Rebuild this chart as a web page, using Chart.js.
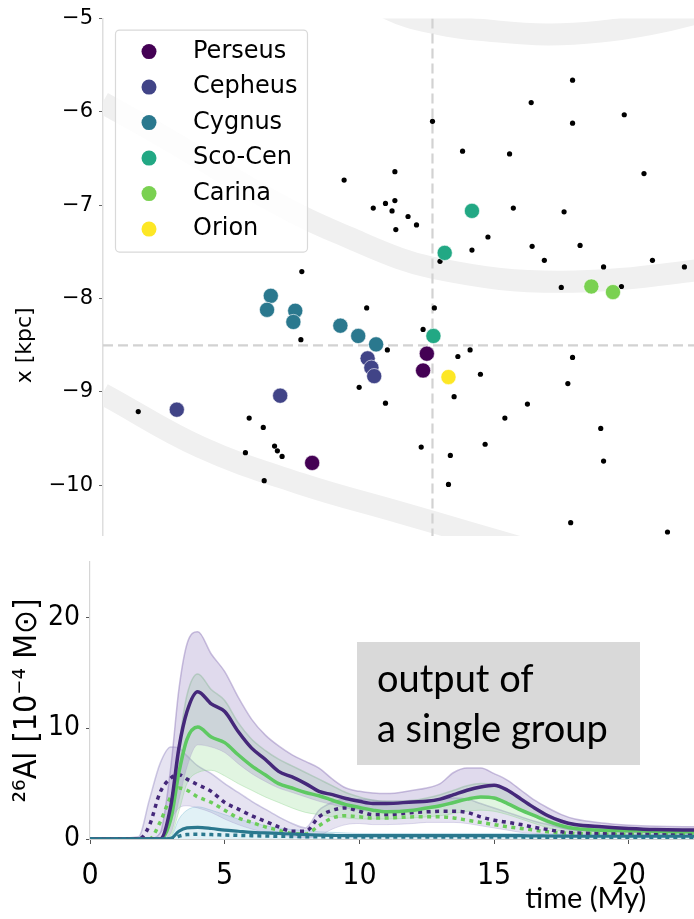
<!DOCTYPE html>
<html>
<head>
<meta charset="utf-8">
<script src="https://cdn.jsdelivr.net/npm/chart.js@4.4.1/dist/chart.umd.min.js"></script>
<style>
html, body { margin: 0; padding: 0; background: #fff; }
#wrap { position: relative; width: 694px; height: 919px; overflow: hidden; }
.panel { position: absolute; left: 0; width: 694px; overflow: hidden; }
</style>
</head>
<body>
<div id="wrap">
  <div class="panel" style="top:0;height:536px"><canvas id="mapChart" width="694" height="692" style="width:694px;height:692px"></canvas></div>
  <div class="panel" style="top:536px;height:383px"><canvas id="alChart"></canvas></div>
</div>
<script>
// ---- top panel: positions of groups and clusters (kpc) ----
const groupNames = ["Perseus", "Cepheus", "Cygnus", "Sco-Cen", "Carina", "Orion"];
const groupColors = ["#440154", "#414487", "#2a788e", "#22a884", "#7ad151", "#fde725"];

const perseus = [[-0.06, -8.59], [-0.10, -8.77], [-1.28, -9.76]];
const cepheus = [[-2.72, -9.19], [-1.62, -9.04], [-0.69, -8.64], [-0.65, -8.74], [-0.62, -8.83]];
const cygnus = [[-1.72, -7.97], [-1.76, -8.12], [-1.46, -8.13], [-1.48, -8.25], [-0.98, -8.29], [-0.79, -8.40], [-0.60, -8.49]];
const scoCen = [[0.42, -7.06], [0.13, -7.51], [0.01, -8.40]];
const carina = [[1.69, -7.87], [1.92, -7.93]];
const orion = [[0.17, -8.84]];
const groups = [perseus, cepheus, cygnus, scoCen, carina, orion];

const clusters = [
  [1.49, -5.66], [1.05, -5.90], [2.04, -6.03], [0.00, -6.10], [1.49, -6.12],
  [0.32, -6.42], [0.82, -6.45], [2.25, -6.66], [-0.40, -6.64], [-0.94, -6.73],
  [-0.63, -7.03], [-0.50, -6.98], [-0.40, -6.95], [-0.43, -7.06], [-0.26, -7.12],
  [-0.17, -7.21], [-0.39, -7.26], [0.86, -7.03], [1.40, -7.07], [0.59, -7.34],
  [0.42, -7.48], [1.06, -7.44], [1.57, -7.43], [1.19, -7.59], [2.34, -7.59],
  [2.68, -7.66], [1.82, -7.66], [0.08, -7.60], [1.37, -7.88], [2.01, -7.87],
  [-1.39, -7.71], [-0.70, -8.10], [0.02, -8.10], [-1.40, -8.44], [-0.10, -8.33],
  [-0.48, -8.55], [0.27, -8.62], [0.40, -8.55], [1.49, -8.63], [0.51, -8.81],
  [1.44, -8.91], [-0.78, -8.95], [-0.50, -9.12], [0.23, -9.05], [1.01, -9.13],
  [0.77, -9.28], [-3.13, -9.21], [-1.95, -9.28], [-1.80, -9.38], [1.79, -9.39],
  [0.56, -9.56], [-1.99, -9.65], [-1.68, -9.58], [-1.65, -9.63], [-1.60, -9.69],
  [-0.12, -9.59], [0.19, -9.68], [-1.79, -9.95], [1.82, -9.74], [0.17, -9.99],
  [1.47, -10.40], [2.50, -10.50]
];

// spiral arms (centre lines)
const armOuter = [[-0.77, -4.64], [-0.48, -4.89], [0.08, -5.06], [0.61, -5.13], [1.22, -5.17], [1.78, -5.14], [2.31, -5.06], [2.78, -4.95], [3.06, -4.85]];
const armLocal = [[-3.75, -5.76], [-3.51, -5.90], [-3.01, -6.18], [-2.47, -6.50], [-1.94, -6.82], [-1.41, -7.11], [-0.88, -7.35], [-0.35, -7.57], [0.00, -7.67], [0.72, -7.79], [1.36, -7.82], [2.00, -7.79], [2.78, -7.70], [3.06, -7.66]];
const armInner = [[-3.75, -8.90], [-3.51, -9.02], [-2.47, -9.59], [-1.41, -9.98], [-0.35, -10.29], [0.37, -10.50], [1.25, -10.76]];

const sunX = 0;
const sunY = -8.5;
const mapXRange = [-3.505, 2.782];
const mapYRange = [-12, -5];   // the panel is cut off below about -10.5

// ---- bottom panel: 26Al mass vs time ----
const time = [0, 1.8, 2.2, 2.6, 3.0, 3.3, 3.6, 4.0, 4.5, 5.0, 5.5, 6.0, 6.5, 7.0, 7.5, 8.0,
  8.5, 9.0, 9.5, 10, 10.5, 11, 12, 12.5, 13, 13.5, 14, 14.5, 15, 15.5, 16,
  16.5, 17, 17.5, 18, 19, 20, 21, 22.5];

const purpleMean = [0, 0, 0, 0, 3.0, 8.2, 11.5, 13.3, 12.2, 11.5, 9.7, 8.2, 7.2, 6.1, 5.6, 5.0,
  4.3, 4.0, 3.65, 3.4, 3.2, 3.2, 3.35, 3.4, 3.6, 4.0, 4.4, 4.7, 4.85, 4.4, 3.6,
  2.8, 2.1, 1.6, 1.3, 1.1, 0.95, 0.85, 0.8];
const purpleHigh = [0, 0, 0, 0.5, 6.5, 13.5, 17.6, 18.7, 16.7, 15.1, 12.8, 10.8, 9.4, 8.4, 7.6, 7.0,
  6.4, 5.4, 4.6, 4.3, 4.15, 4.1, 4.4, 4.6, 5.0, 6.0, 6.4, 6.4, 5.9, 5.3, 4.4,
  3.5, 2.8, 2.2, 1.8, 1.45, 1.25, 1.15, 1.1];
const purpleLow = [0, 0, 0, 0, 0.5, 3.5, 6.5, 8.5, 8.3, 7.8, 6.8, 5.9, 5.2, 4.6, 4.2, 3.8,
  3.4, 3.1, 2.8, 2.6, 2.5, 2.5, 2.6, 2.7, 2.9, 3.2, 3.5, 3.7, 3.6, 3.2, 2.6,
  2.0, 1.4, 1.0, 0.8, 0.7, 0.6, 0.55, 0.5];

const greenMean = [0, 0, 0, 0, 1.8, 6.0, 9.0, 10.1, 9.2, 8.7, 7.6, 6.6, 5.8, 5.0, 4.6, 4.2,
  3.9, 3.5, 3.1, 2.85, 2.6, 2.45, 2.6, 2.8, 3.0, 3.3, 3.6, 3.8, 3.7, 3.2, 2.6,
  2.1, 1.6, 1.2, 0.95, 0.8, 0.75, 0.7, 0.65];
const greenHigh = [0, 0, 0, 0, 2.5, 8.5, 13.0, 14.9, 13.5, 12.5, 10.5, 9.0, 8.0, 7.2, 6.6, 6.0,
  5.4, 4.8, 4.2, 3.8, 3.5, 3.4, 3.5, 3.7, 4.0, 4.4, 4.8, 5.0, 4.9, 4.4, 3.7,
  2.9, 2.2, 1.7, 1.35, 1.05, 0.95, 0.9, 0.85];
const greenLow = [0, 0, 0, 0, 0.3, 2.5, 5.0, 6.0, 6.2, 5.7, 5.0, 4.4, 3.8, 3.3, 2.8, 2.4,
  2.2, 2.0, 1.9, 1.8, 1.8, 1.8, 1.9, 2.0, 2.1, 2.3, 2.5, 2.6, 2.5, 2.2, 1.8,
  1.4, 1.0, 0.7, 0.55, 0.5, 0.45, 0.45, 0.45];

const purpleDotted = [0, 0, 1.2, 4.2, 5.5, 5.8, 5.4, 4.9, 4.3, 3.3, 2.7, 2.1, 1.6, 1.1, 0.7, 0.7,
  2.0, 2.6, 2.8, 2.5, 2.2, 2.2, 2.4, 2.45, 2.5, 2.5, 2.4, 2.0, 1.7, 1.5, 1.3,
  1.05, 0.85, 0.65, 0.55, 0.5, 0.45, 0.45, 0.4];
const greenDotted = [0, 0, 0, 1.5, 3.8, 4.6, 4.4, 3.8, 3.3, 2.6, 1.9, 1.5, 1.1, 0.8, 0.5, 0.45,
  1.2, 1.9, 2.1, 2.0, 1.9, 1.9, 2.0, 2.0, 2.0, 1.9, 1.7, 1.5, 1.3, 1.1, 0.95,
  0.8, 0.65, 0.55, 0.5, 0.45, 0.4, 0.4, 0.4];
const dottedHigh = [0, 0.2, 3.5, 6.8, 8.3, 8.2, 7.5, 6.6, 5.9, 5.0, 4.2, 3.4, 2.7, 2.0, 1.4, 1.0,
  2.6, 3.3, 3.6, 3.6, 3.5, 3.4, 3.4, 3.5, 3.6, 3.7, 3.6, 3.2, 2.8, 2.4, 2.0,
  1.6, 1.3, 1.0, 0.8, 0.7, 0.6, 0.6, 0.55];
const dottedLow = [0, 0, 0, 0.5, 1.8, 2.8, 3.0, 2.8, 2.4, 1.8, 1.3, 0.9, 0.6, 0.4, 0.2, 0.1,
  0.3, 0.9, 1.3, 1.4, 1.3, 1.3, 1.4, 1.5, 1.5, 1.5, 1.4, 1.2, 1.0, 0.8, 0.6,
  0.5, 0.4, 0.35, 0.3, 0.3, 0.3, 0.3, 0.3];

const tealMean = [0, 0, 0, 0, 0.05, 0.7, 1.0, 1.05, 0.95, 0.8, 0.7, 0.6, 0.55, 0.5, 0.45, 0.4,
  0.35, 0.32, 0.3, 0.3, 0.3, 0.3, 0.3, 0.3, 0.3, 0.3, 0.3, 0.3, 0.3, 0.3, 0.3,
  0.28, 0.27, 0.26, 0.25, 0.25, 0.25, 0.25, 0.25];
const tealDotted = [0, 0, 0, 0, 0, 0.25, 0.4, 0.42, 0.4, 0.36, 0.33, 0.3, 0.27, 0.25, 0.23, 0.2,
  0.2, 0.18, 0.18, 0.18, 0.17, 0.17, 0.17, 0.17, 0.17, 0.17, 0.17, 0.17, 0.17, 0.17, 0.17,
  0.16, 0.16, 0.15, 0.15, 0.15, 0.15, 0.15, 0.15];
const tealHigh = [0, 0, 0, 0, 0.2, 1.8, 2.6, 2.9, 2.6, 2.2, 1.8, 1.5, 1.2, 1.0, 0.85, 0.75,
  0.65, 0.6, 0.55, 0.5, 0.5, 0.5, 0.5, 0.5, 0.5, 0.5, 0.5, 0.5, 0.5, 0.5, 0.5,
  0.45, 0.45, 0.45, 0.4, 0.4, 0.4, 0.4, 0.4];

const timeTicks = [0, 5, 10, 15, 20];
const massTicks = [0, 10, 20];
const noteLines = ["output of", "a single group"];

// ---------- helpers ----------
const pts = arr => arr.map(([x, y]) => ({ x: x, y: y }));
const series = vals => time.map((t, i) => ({ x: t, y: vals[i] }));
const minus = v => (v < 0 ? "\u2212" : "") + Math.abs(v);

// ---------- top chart ----------
const mapLegend = {
  id: "mapLegend",
  afterDraw(chart) {
    const ctx = chart.ctx;
    const a = chart.chartArea;
    const x0 = a.left + 12, y0 = a.top + 11, w = 192, h = 222;
    ctx.save();
    ctx.beginPath();
    ctx.roundRect(x0 + 0.5, y0 + 0.5, w, h, 4);
    ctx.fillStyle = "rgba(255,255,255,0.85)";
    ctx.fill();
    ctx.strokeStyle = "#d9d9d9";
    ctx.lineWidth = 1.2;
    ctx.stroke();
    ctx.font = "24px 'DejaVu Sans'";
    ctx.textBaseline = "middle";
    groupNames.forEach((name, i) => {
      const cy = y0 + 22 + i * 35.5;
      ctx.beginPath();
      ctx.arc(x0 + 34, cy, 7.5, 0, Math.PI * 2);
      ctx.fillStyle = groupColors[i];
      ctx.fill();
      ctx.fillStyle = "#000";
      ctx.fillText(name, x0 + 78, cy);
    });
    ctx.restore();
  }
};

const mapSets = [];
groups.forEach((g, i) => {
  mapSets.push({
    label: groupNames[i], data: pts(g), order: 0,
    backgroundColor: groupColors[i], borderColor: "#ffffff", borderWidth: 0.6,
    pointRadius: 7.6
  });
});
mapSets.push({
  label: "clusters", data: pts(clusters), order: 1,
  backgroundColor: "#000", borderWidth: 0, pointRadius: 2.6
});
mapSets.push({
  label: "sunX", data: pts([[sunX, mapYRange[1]], [sunX, mapYRange[0]]]), order: 2,
  showLine: true, pointRadius: 0, borderColor: "#d2d2d2", borderWidth: 2.2, borderDash: [10, 5]
});
mapSets.push({
  label: "sunY", data: pts([[mapXRange[0], sunY], [mapXRange[1], sunY]]), order: 2,
  showLine: true, pointRadius: 0, borderColor: "#d2d2d2", borderWidth: 2.2, borderDash: [10, 5]
});
[armOuter, armLocal, armInner].forEach((arm, i) => {
  mapSets.push({
    label: "arm" + i, data: pts(arm), order: 3, clip: 0,
    showLine: true, pointRadius: 0, borderColor: "#f0f0f0", borderWidth: 22,
    tension: 0.4, borderCapStyle: "butt"
  });
});

new Chart(document.getElementById("mapChart"), {
  type: "scatter",
  data: { datasets: mapSets },
  options: {
    responsive: false, animation: false,
    layout: { autoPadding: false, padding: { top: 14, right: 0, bottom: 20, left: 0 } },
    plugins: { legend: { display: false }, tooltip: { enabled: false } },
    scales: {
      x: { type: "linear", display: false, min: mapXRange[0], max: mapXRange[1] },
      y: {
        min: mapYRange[0], max: mapYRange[1],
        border: { color: "#dedede", width: 1.5 },
        grid: { drawOnChartArea: false, tickLength: 4, color: "#666" },
        ticks: {
          stepSize: 1, includeBounds: false, color: "#000", padding: 6,
          font: { family: "DejaVu Sans", size: 21 }, callback: minus
        },
        title: {
          display: true, text: "x [kpc]", color: "#000",
          font: { family: "DejaVu Sans", size: 22 }, padding: { top: 12, bottom: 0 }
        },
        afterFit(s) { s.width = 103; }
      }
    }
  },
  plugins: [mapLegend]
});

// ---------- bottom chart ----------
const notes = {
  id: "notes",
  afterDatasetsDraw(chart) {
    const ctx = chart.ctx;
    const xs = chart.scales.x;
    ctx.save();
    ctx.fillStyle = "#d9d9d9";
    ctx.fillRect(357, 106, 283, 123);
    ctx.fillStyle = "#000";
    ctx.font = "38px Lato";
    ctx.textBaseline = "alphabetic";
    ctx.fillText(noteLines[0], 377, 156);
    ctx.fillText(noteLines[1], 377, 206);
    ctx.font = "29px Lato";
    ctx.textAlign = "center";
    ctx.fillText("time (My)", xs.getPixelForValue(18.4), 372);
    ctx.restore();
  }
};

const line = (vals, color, extra) => Object.assign({
  data: series(vals), borderColor: color, borderWidth: 3.5, pointRadius: 0,
  cubicInterpolationMode: "monotone", fill: false
}, extra || {});

const alSets = [
  line(tealMean, "#2a788e", { label: "teal", order: 0, borderWidth: 3.2 }),
  line(tealDotted, "#2a788e", { label: "teal dotted", order: 1, borderDash: [4, 4] }),
  line(purpleMean, "#45287a", { label: "purple", order: 2 }),
  line(greenMean, "#5ec962", { label: "green", order: 3 }),
  line(purpleDotted, "#45287a", { label: "purple dotted", order: 4, borderDash: [4, 4.5] }),
  line(greenDotted, "#6ccd5a", { label: "green dotted", order: 5, borderDash: [4, 4.5] }),
  line(purpleHigh, "rgba(150,130,190,0.5)", { label: "p hi", order: 6, borderWidth: 1.5, fill: "+1", backgroundColor: "rgba(160,140,200,0.32)" }),
  line(purpleLow, "rgba(150,130,190,0.25)", { label: "p lo", order: 7, borderWidth: 1 }),
  line(greenHigh, "rgba(130,205,130,0.45)", { label: "g hi", order: 8, borderWidth: 1.5, fill: "+1", backgroundColor: "rgba(140,215,140,0.26)" }),
  line(greenLow, "rgba(130,205,130,0.35)", { label: "g lo", order: 9, borderWidth: 1 }),
  line(dottedHigh, "rgba(150,140,195,0.45)", { label: "d hi", order: 10, borderWidth: 1.5, fill: "+1", backgroundColor: "rgba(165,155,205,0.28)" }),
  line(dottedLow, "rgba(150,140,195,0.3)", { label: "d lo", order: 11, borderWidth: 1 }),
  line(tealHigh, "rgba(110,180,205,0.35)", { label: "t hi", order: 12, borderWidth: 1, fill: "origin", backgroundColor: "rgba(120,190,215,0.22)" })
];

new Chart(document.getElementById("alChart"), {
  type: "line",
  data: { datasets: alSets },
  options: {
    responsive: true, maintainAspectRatio: false, animation: false,
    layout: { autoPadding: false, padding: { top: 26, right: 0, bottom: 0, left: 0 } },
    plugins: { legend: { display: false }, tooltip: { enabled: false } },
    scales: {
      x: {
        type: "linear", min: 0, max: 22.42,
        border: { color: "#cfcfcf", width: 1 },
        grid: { drawOnChartArea: false, tickLength: 5, color: "#555" },
        afterBuildTicks(s) { s.ticks = timeTicks.map(v => ({ value: v })); },
        ticks: {
          color: "#000", padding: 14, maxRotation: 0,
          font: { family: "DejaVu Sans Condensed", size: 30 }
        },
        afterFit(s) { s.height = 80; }
      },
      y: {
        min: 0, max: 25,
        border: { color: "#d6d6d6", width: 1.2 },
        grid: { drawOnChartArea: false, tickLength: 4, color: "#555" },
        afterBuildTicks(s) { s.ticks = massTicks.map(v => ({ value: v })); },
        ticks: {
          color: "#000", padding: 6,
          font: { family: "DejaVu Sans Condensed", size: 28 }
        },
        title: {
          display: true, text: "\u00b2\u2076Al [10\u207b\u2074 M\u2299]", color: "#000",
          font: { family: "DejaVu Sans Condensed", size: 32 }, padding: { top: 8, bottom: 0 }
        },
        afterFit(s) { s.width = 90; }
      }
    }
  },
  plugins: [notes]
});
</script>
</body>
</html>
